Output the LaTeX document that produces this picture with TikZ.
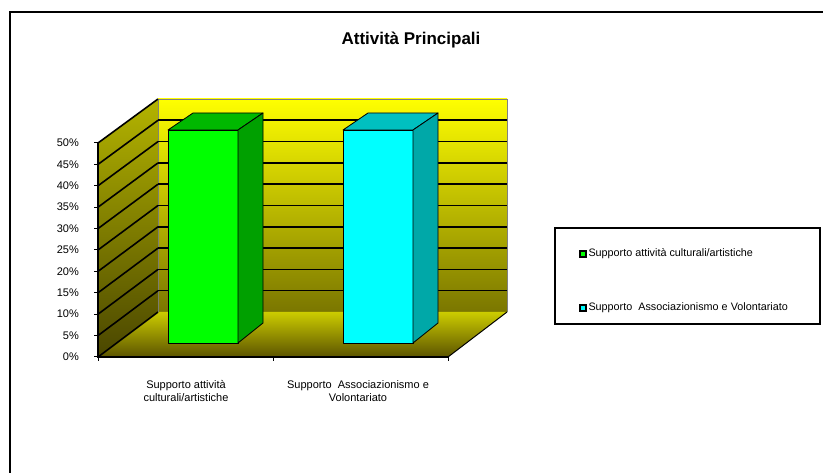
\documentclass[tikz,border=0pt]{standalone}
\usepackage{fontspec}
\setmainfont{Liberation Sans}
\usetikzlibrary{positioning}

\definecolor{wallhi}{HTML}{FFFF00}
\definecolor{walllo}{HTML}{7A7600}
\definecolor{sidehi}{HTML}{B4B400}
\definecolor{sidelo}{HTML}{4A4600}
\definecolor{floorhi}{HTML}{CCCC00}
\definecolor{floorlo}{HTML}{5C5400}
\definecolor{grfront}{HTML}{00FF00}
\definecolor{grtop}{HTML}{00B800}
\definecolor{grside}{HTML}{00A000}
\definecolor{cyfront}{HTML}{00FFFF}
\definecolor{cytop}{HTML}{00C0C0}
\definecolor{cyside}{HTML}{00A8A8}

% one 3d column: left x, front, top and side colours
\newcommand{\drawcolumn}[4]{%
  \filldraw[face,fill=#2] (#1,130) rectangle ++(70,213);
  \filldraw[face,fill=#3] (#1,130) -- ++(25,-17) -- ++(70,0) -- ++(-25,17) -- cycle;
  \filldraw[face,fill=#4] ({#1+70},130) -- ++(25,-17) -- ++(0,210) -- ({#1+70},343) -- cycle;
}

\begin{document}
\begin{tikzpicture}[x=1pt,y=-1pt,
                  lbl/.style={font=\fontsize{11}{13}\selectfont,inner sep=0pt},
                  gridline/.style={line width=1.6pt,black},
                  face/.style={draw=black,line width=0.8pt,line join=round},
                  legkey/.style={rectangle,draw=black,line width=1.6pt,inner sep=0pt,
                    minimum size=6pt},
                  legbox/.style={rectangle,draw=black,line width=1.6pt,inner sep=0pt,
                    minimum width=265pt,minimum height=96pt}
                  ]
                  \useasboundingbox (0,0) rectangle (823,473);
                  \draw[line width=2pt] (10,473) -- (10,12) -- (823,12);

                  \node[font=\bfseries\fontsize{17}{19}\selectfont] (title) at (411,40) {Attività Principali};

                  % walls and floor
                  \shade[top color=wallhi,bottom color=walllo] (158,99) rectangle (507,312);
                  \draw[gray,line width=0.7pt] (158,312) -- (158,99) -- (507,99) -- (507,312);
                  \shade[top color=sidehi,bottom color=sidelo] (98,357) -- (98,143) -- (158,99) -- (158,312) -- cycle;
                  \shade[top color=floorhi,bottom color=floorlo] (98,357) -- (158,312) -- (507,312) -- (448,357) -- cycle;
                  \draw[line width=1pt] (448,357) -- (507,312);

                  \foreach \k in {0,...,10}
                    \draw[gridline] (98,{357-21.4*\k}) -- (158,{312-21.3*\k});
                  \foreach \k in {1,...,9}
                    \draw[gridline] (158,{312-21.3*\k}) -- (507,{312-21.3*\k});

                  % columns
                  \drawcolumn{168}{grfront}{grtop}{grside}
                  \drawcolumn{343}{cyfront}{cytop}{cyside}

                  % axes
                  \draw[line width=1.3pt] (98,143) -- (98,357) -- (448,357);
                  \foreach \k [evaluate=\k as \pct using int(5*\k)] in {0,...,10} {
                    \draw[line width=1pt] (98,{357-21.4*\k}) -- ++(-4,0);
                    \node[lbl,anchor=east] (ylab\k) at (79,{357-21.4*\k}) {\pct\%};
                  }
                  \foreach \x in {98,273,448}
                    \draw[line width=1pt] (\x,357) -- ++(0,4);

                  \node[lbl,align=center] (cat1) at (186,391) {Supporto attività\\culturali/artistiche};
                  \node[lbl,align=center] (cat2) at (358,391) {Supporto\ \ Associazionismo e\\Volontariato};

                  % legend
                  \node[legbox,anchor=north west] (legend) at (554,227) {};
                  \node[legkey,fill=grfront] (key1) at (583,254) {};
                  \node[lbl,right=1.5pt of key1,font=\fontsize{10.8}{12}\selectfont] (legtext1) {Supporto attività culturali/artistiche};
                  \node[legkey,fill=cyfront] (key2) at (583,308) {};
                  \node[lbl,right=1.5pt of key2,font=\fontsize{10.8}{12}\selectfont] (legtext2) {Supporto\ \ Associazionismo e Volontariato};
                \end{tikzpicture}
\end{document}
